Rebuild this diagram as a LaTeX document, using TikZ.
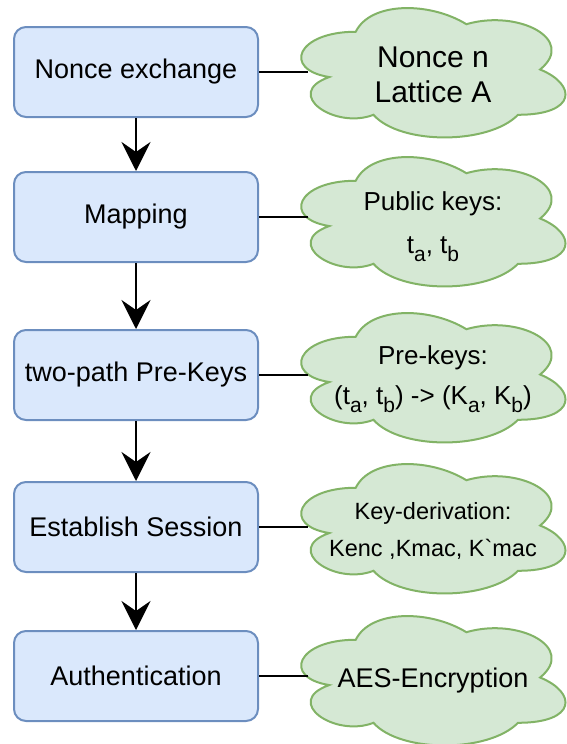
\documentclass[tikz,border=0pt]{standalone}
\usepackage{fontspec}
\setmainfont{Liberation Sans}[Ligatures=TeXOff]
\usetikzlibrary{arrows.meta}
\definecolor{boxfill}{HTML}{DAE8FC}
\definecolor{boxdraw}{HTML}{6C8EBF}
\definecolor{cloudfill}{HTML}{D5E8D4}
\definecolor{clouddraw}{HTML}{82B366}
\newcommand\sbs[1]{\raisebox{-8pt}{\fontsize{21}{21}\selectfont #1}}
\newcommand\dcloud[5]{% name, x0, y0, w, h
  \draw[cloudsty]
    ({#2+0.25*#4},{#3+0.25*#5})
    .. controls ({#2+0.05*#4},{#3+0.25*#5}) and ({#2},{#3+0.5*#5}) .. ({#2+0.16*#4},{#3+0.55*#5})
    .. controls ({#2},{#3+0.66*#5}) and ({#2+0.18*#4},{#3+0.9*#5}) .. ({#2+0.31*#4},{#3+0.8*#5})
    .. controls ({#2+0.4*#4},{#3+#5}) and ({#2+0.7*#4},{#3+#5}) .. ({#2+0.8*#4},{#3+0.8*#5})
    .. controls ({#2+#4},{#3+0.8*#5}) and ({#2+#4},{#3+0.6*#5}) .. ({#2+0.875*#4},{#3+0.5*#5})
    .. controls ({#2+#4},{#3+0.3*#5}) and ({#2+0.8*#4},{#3+0.1*#5}) .. ({#2+0.625*#4},{#3+0.2*#5})
    .. controls ({#2+0.5*#4},{#3+0.05*#5}) and ({#2+0.3*#4},{#3+0.05*#5}) .. cycle;
  \coordinate (#1-w) at ({#2+0.089*#4},{#3+0.5*#5});
}
\tikzset{
  stepbox/.style={draw=boxdraw, fill=boxfill, line width=2pt, rounded corners=12pt,
    minimum width=244pt, minimum height=90pt, inner sep=0pt, font=\fontsize{27}{32}\selectfont},
  cloudsty/.style={draw=clouddraw, fill=cloudfill, line width=2pt},
  cloudtext/.style={inner sep=0pt, align=center},
  arr/.style={line width=2.5pt, -{Stealth[length=29pt, width=29pt, inset=10pt]}},
  link/.style={line width=2.5pt}
}
\begin{document}
\begin{tikzpicture}[x=1pt,y=-1pt]
\useasboundingbox (0,0) rectangle (566,744);
% boxes
\node[stepbox] (b1) at (136,72) {Nonce exchange};
\node[stepbox] (b2) at (136,217) {Mapping};
\node[stepbox] (b3) at (136,375) {two-path Pre-Keys};
\node[stepbox] (b4) at (136,527) {Establish Session};
\node[stepbox] (b5) at (136,676) {Authentication};
% clouds
\dcloud{c1}{282}{-6}{295}{151}
\dcloud{c2}{282}{143}{295}{151}
\dcloud{c3}{282}{299}{295}{151}
\dcloud{c4}{282}{450}{295}{151}
\dcloud{c5}{282}{602}{295}{151}
\node[cloudtext, font=\fontsize{30}{35}\selectfont] (t1) at (433,75) {Nonce n\\Lattice A};
\node[cloudtext, font=\fontsize{26}{43}\selectfont] (t2) at (433,227) {Public keys:\\t\sbs{a}, t\sbs{b}};
\node[cloudtext, font=\fontsize{26}{40}\selectfont] (t3) at (433,379) {Pre-keys:\\(t\sbs{a}, t\sbs{b}) -> (K\sbs{a}, K\sbs{b})};
\node[cloudtext, font=\fontsize{23.5}{37}\selectfont] (t4) at (433,531) {Key-derivation:\\Kenc ,Kmac, K`mac};
\node[cloudtext, font=\fontsize{27}{32}\selectfont] (t5) at (433,681) {AES-Encryption};
% arrows
\draw[arr] (b1.south) -- (b2.north);
\draw[arr] (b2.south) -- (b3.north);
\draw[arr] (b3.south) -- (b4.north);
\draw[arr] (b4.south) -- (b5.north);
% links
\draw[link] (b1.east) -- (b1.east -| c1-w);
\draw[link] (b2.east) -- (b2.east -| c2-w);
\draw[link] (b3.east) -- (b3.east -| c3-w);
\draw[link] (b4.east) -- (b4.east -| c4-w);
\draw[link] (b5.east) -- (b5.east -| c5-w);
\end{tikzpicture}
\end{document}
